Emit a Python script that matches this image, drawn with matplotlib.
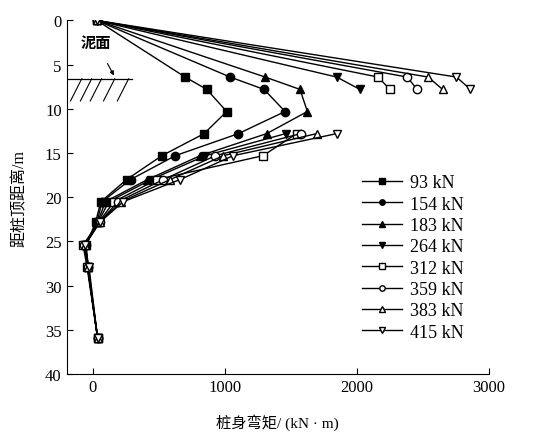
import numpy as np
import matplotlib
matplotlib.use("agg")
import matplotlib.pyplot as plt

nan = np.nan

# depth below pile top (m)
depth = [0, 6.4, 7.8, 10.3, 12.8, 15.3, 18.0, 20.5, 22.8, 25.4, 27.9, 35.9]

# bending moment (kN*m) for each load step
loads = ["93 kN", "154 kN", "183 kN", "264 kN",
         "312 kN", "359 kN", "383 kN", "415 kN"]
m_93 = [30, 698, 862, 1013, 842, 522, 255, 60, 20, -50, -40, 35]
m_154 = [30, 1039, 1296, 1455, 1102, 623, 285, 70, 30, -55, -40, 35]
m_183 = [30, 1304, 1568, 1624, 1316, 812, 413, 95, 35, -55, -40, 35]
m_264 = [30, 1846, 2022, nan, 1460, 851, 440, 120, 40, -60, -40, 35]
m_312 = [30, 2160, 2249, nan, 1543, 1288, 484, 160, 45, -75, -45, 35]
m_359 = [30, 2380, 2455, nan, 1575, 927, 534, 190, 50, -65, -40, 35]
m_383 = [30, 2539, 2648, nan, 1694, 987, 585, 215, 50, -60, -35, 35]
m_415 = [30, 2753, 2859, nan, 1846, 1062, 660, 230, 55, -60, -30, 35]
moments = [m_93, m_154, m_183, m_264, m_312, m_359, m_383, m_415]

markers = ["s", "o", "^", "v", "s", "o", "^", "v"]
fills = ["k", "k", "k", "k", "w", "w", "w", "w"]

serif = ["Liberation Serif", "Noto Sans CJK SC"]
plt.rcParams["font.family"] = serif

fig = plt.figure(figsize=(5.41, 4.35), dpi=100)
ax = fig.add_axes([0.123, 0.138, 0.781, 0.8126])

for m, lab, mk, fc in zip(moments, loads, markers, fills):
    ax.plot(m, depth, color="k", lw=1.0, marker=mk, ms=6,
            mfc=fc, mec="k", mew=1.0, label=lab)

ax.set_xlim(-200, 3000)
ax.set_ylim(40, 0)
ax.set_xticks([0, 1000, 2000, 3000])
ax.set_yticks(range(0, 41, 5))
ax.spines["top"].set_visible(False)
ax.spines["right"].set_visible(False)
ax.tick_params(direction="in", length=4, width=0.8, labelsize=12)
ax.set_xlabel("桩身弯矩/ (kN · m)", fontsize=11, labelpad=13)
ax.set_ylabel("距桩顶距离/m", fontsize=11.5, labelpad=12)

# mud surface marker
ax.plot([-200, 295], [6.6, 6.6], color="k", lw=0.9)
for xb in [-170, -95, -20, 80, 185]:
    ax.plot([xb, xb + 85], [9.1, 6.6], color="k", lw=0.8)
ax.annotate("", xy=(169, 6.5), xytext=(100, 4.6),
            arrowprops=dict(arrowstyle="-|>", color="k", lw=0.8,
                            mutation_scale=6))
ax.text(20, 2.4, "泥面", fontsize=11, ha="center", va="center",
        family="Noto Sans CJK SC", weight="bold")

ax.legend(loc="upper left", bbox_to_anchor=(0.70, 0.565), frameon=False,
          fontsize=13, handlelength=2.2, handletextpad=0.45,
          labelspacing=0.24, borderpad=0, borderaxespad=0, markerscale=0.65)

plt.savefig("out.png", dpi=100)
